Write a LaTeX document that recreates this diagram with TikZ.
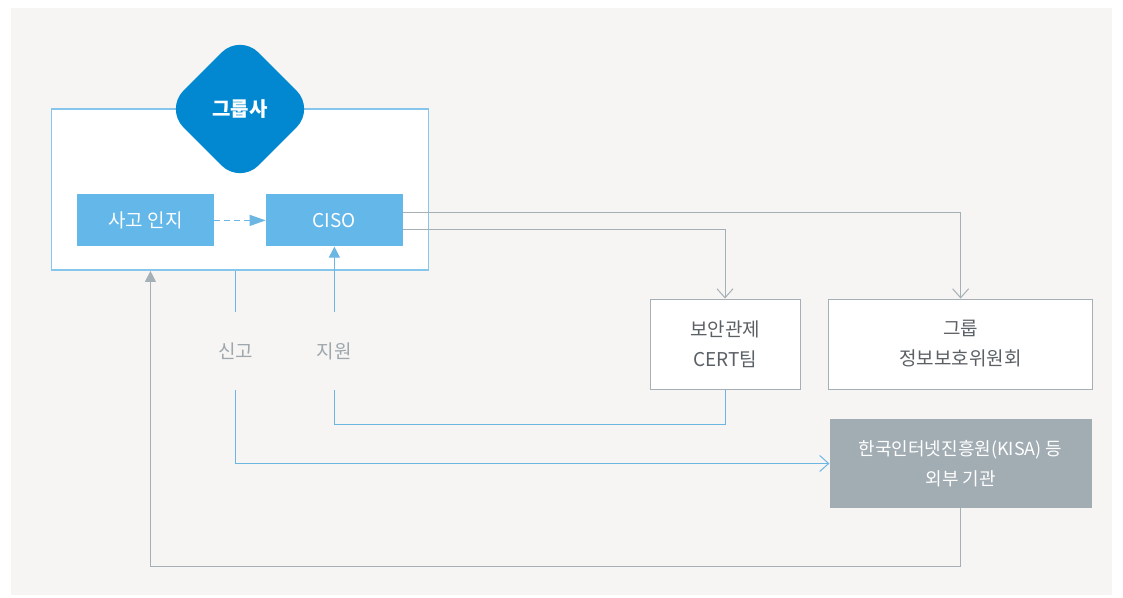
\documentclass[tikz,border=0pt]{standalone}
\usepackage{fontspec}
\setmainfont{Noto Sans CJK KR}
\usepackage{tikz}
\usetikzlibrary{shapes.geometric, arrows.meta, positioning}
\definecolor{bgc}{HTML}{F6F5F3}
\definecolor{hubblue}{HTML}{0288D0}
\definecolor{boxblue}{HTML}{63B7E9}
\definecolor{frameblue}{HTML}{86C5EC}
\definecolor{lineblue}{HTML}{6CB6E4}
\definecolor{linegray}{HTML}{A5AFB6}
\definecolor{kisagray}{HTML}{A1ACB3}
\definecolor{textdark}{HTML}{5B6065}
\definecolor{taggray}{HTML}{9EA7AD}
\newcommand{\txtfont}{\fontsize{19pt}{30pt}\selectfont}
\tikzstyle{block} = [rectangle, fill=boxblue, text=white, minimum width=137pt, minimum height=52pt, font=\txtfont]
\tikzstyle{groupbox} = [rectangle, draw=frameblue, line width=1.5pt, fill=white, minimum width=377pt, minimum height=161pt]
\tikzstyle{hub} = [diamond, fill=hubblue, text=white, minimum width=150pt, minimum height=150pt, rounded corners=26pt, inner sep=0pt, font=\bfseries\fontsize{20pt}{24pt}\selectfont]
\tikzstyle{orgbox} = [rectangle, draw=linegray, line width=1pt, fill=white, text=textdark, align=center, minimum height=90pt, font=\txtfont]
\tikzstyle{extbox} = [rectangle, fill=kisagray, text=white, align=center, minimum width=262pt, minimum height=89pt, font=\fontsize{18pt}{30pt}\selectfont]
\tikzstyle{tag} = [text=taggray, minimum height=78pt, inner sep=0pt, font=\txtfont]
\tikzstyle{line} = [draw, line width=1pt]
\tikzstyle{bline} = [line, draw=lineblue]
\tikzstyle{gline} = [line, draw=linegray]
\tikzstyle{openhead} = [-{Straight Barb[length=9pt,width=16pt]}]
\tikzstyle{fullhead} = [-{Triangle[length=11pt,width=11pt]}]
\begin{document}
\begin{tikzpicture}[x=1pt, y=-1pt, node distance=189pt]
    \useasboundingbox (0,0) rectangle (1123,597);
    \fill[bgc] (11,8) rectangle (1112,595);
    % Nodes
    \node [groupbox] (grpbox) at (240.2,189.7) {};
    \node [hub] (hub) at (240,109) {그룹사};
    \node [block] (sago) at (145.4,220.4) {사고 인지};
    \node [block, right of=sago] (ciso) {CISO};
    \node [orgbox, minimum width=150pt] (cert) at (725,344) {보안관제\\CERT팀};
    \node [orgbox, minimum width=264pt, right of=cert, node distance=235.6pt] (cmt) {그룹\\정보보호위원회};
    \node [extbox, below of=cmt, node distance=119.5pt] (kisa) {한국인터넷진흥원(KISA) 등\\외부 기관};
    \node [tag, below of=ciso, node distance=130.6pt] (jiwon) {지원};
    \node [tag, left of=jiwon, node distance=98.5pt] (singo) {신고};

    % Lines
    \path [bline, dash pattern=on 6pt off 4pt, -{Triangle[length=16pt,width=11pt]}] (sago) -- (ciso);
    \path [gline, openhead] ([yshift=-9pt]ciso.east) -| (cert.north);
    \path [gline, openhead] ([yshift=7.7pt]ciso.east) -| (cmt.north);
    \path [bline] (singo.north |- grpbox.south) -- (singo.north);
    \path [bline, openhead] (singo.south) |- (kisa.west);
    \path [bline] (cert.south) -- ++(0,34.5) -| (jiwon.south);
    \path [bline, fullhead] (jiwon.north) -- (ciso.south);
    \path [gline, fullhead] (kisa.south) -- ++(0,58.5) -| ([xshift=99.5pt]grpbox.south west);
\end{tikzpicture}
\end{document}
